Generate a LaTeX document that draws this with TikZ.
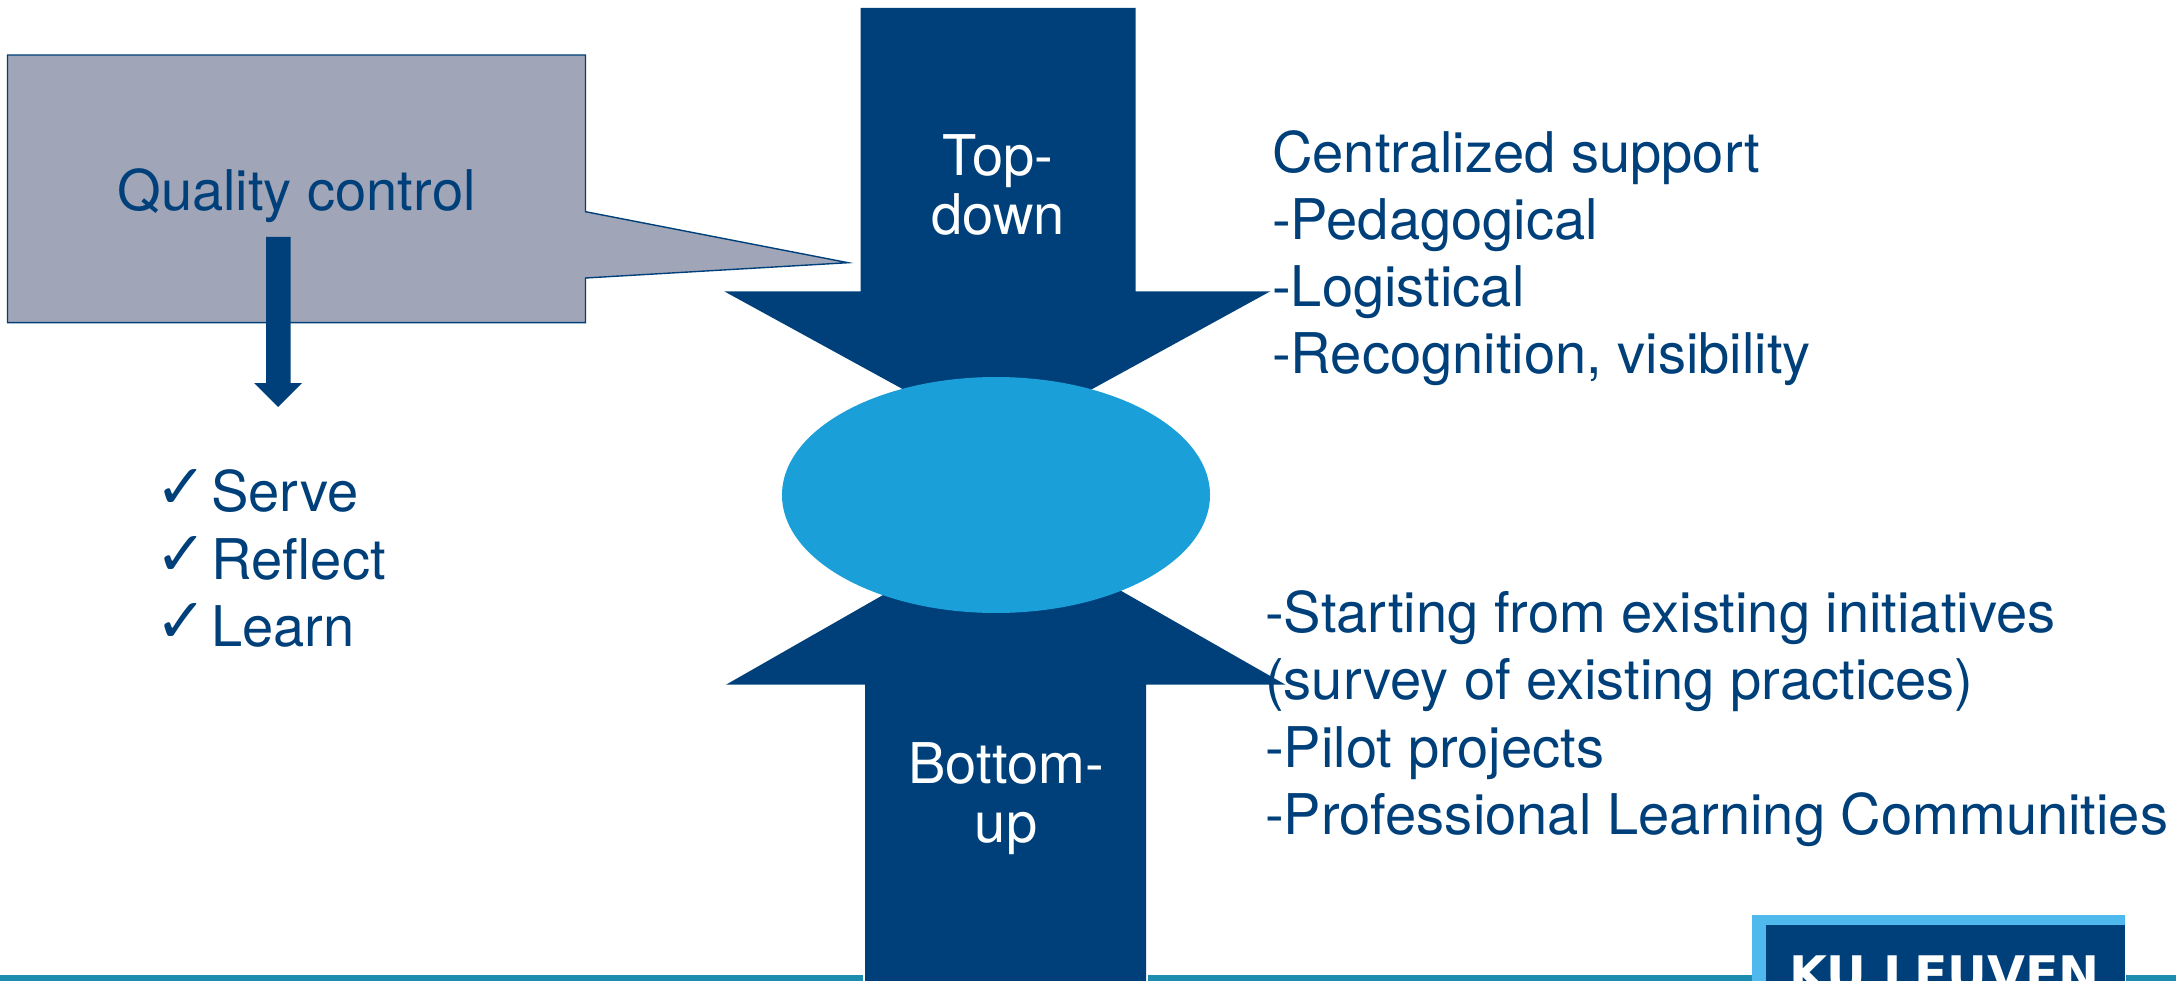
\documentclass[tikz,border=0pt]{standalone}
\usepackage{fontspec}
\setmainfont{TeX Gyre Heros}
\newfontfamily\checkfont{DejaVu Sans}
\newfontfamily\logofont{DejaVu Sans}
\definecolor{kunavy}{HTML}{00407A}
\definecolor{kugray}{HTML}{A0A5B8}
\definecolor{kusky}{HTML}{1A9FD9}
\definecolor{kulight}{HTML}{4FB9EE}
\definecolor{kuteal}{HTML}{1C8DB0}
\tikzset{
  bodytext/.style={text=kunavy,inner sep=0pt,align=left,font=\fontsize{56.1}{67.2}\selectfont},
  itemtext/.style={text=kunavy,inner sep=0pt,anchor=base west,font=\fontsize{56.1}{67}\selectfont},
  checkmark/.style={text=kunavy,inner sep=0pt,anchor=base west,font=\checkfont\fontsize{62}{62}\selectfont},
  arrowtext/.style={text=white,inner sep=0pt,align=center,font=\fontsize{56.1}{59}\selectfont},
  blockarrow/.style={fill=kunavy,draw=none},
  footbar/.style={fill=kuteal,draw=none}
}
\begin{document}
\begin{tikzpicture}[x=1pt,y=-1pt]
\useasboundingbox (0,0) rectangle (2176,981);
% footer bars
\fill[footbar] (0,975) rectangle (863,981);
\fill[footbar] (1148,975) rectangle (1752,981);
\fill[footbar] (2126,975) rectangle (2176,981);
% logo
\fill[kulight] (1752,915) rectangle (2125,981);
\fill[kunavy] (1765.5,925) rectangle (2125,981);
\begin{scope}
\clip (1765.5,925) rectangle (2125,981);
\node[text=white,inner sep=0pt,anchor=base,font=\logofont\bfseries\fontsize{49}{49}\selectfont] (logo) at (1944.5,991) {KU LEUVEN};
\end{scope}
% callout
\path[fill=kugray,draw=kunavy,line width=1.4pt,line join=miter]
  (7.5,55) -- (585.5,55) -- (585.5,211.7) -- (848,262.7) -- (585.5,278) -- (585.5,322.7) -- (7.5,322.7) -- cycle;
\node[text=kunavy,inner sep=0pt,anchor=base,font=\fontsize{56.1}{67}\selectfont] (quality) at (296.5,210.7) {Quality control};
% small arrow
\path[blockarrow] (266,237) -- (290.5,237) -- (290.5,383) -- (302,383) -- (278,407) -- (254,383) -- (266,383) -- cycle;
% top arrow
\path[blockarrow] (860.5,8) -- (1135.6,8) -- (1135.6,291.5) -- (1270,291.5) -- (997.5,441) -- (724.5,291.5) -- (860.5,291.5) -- cycle;
% bottom arrow
\path[blockarrow] (865,981) -- (1146,981) -- (1146,684.7) -- (1285.5,684.7) -- (1005.7,525) -- (726,684.7) -- (865,684.7) -- cycle;
% ellipse
\fill[kusky] (996,495) ellipse [x radius=214,y radius=118];
% labels on arrows
\node[arrowtext,anchor=base] (top) at (998,235) {Top-\\down};
\node[arrowtext,anchor=base] (bottom) at (1006,842) {Bottom-\\up};
% right texts
\node[bodytext,anchor=north west] (central) at (1272,130) {Centralized support\\-Pedagogical\\-Logistical\\-Recognition, visibility};
\node[bodytext,anchor=north west] (initiatives) at (1265,590.5) {-Starting from existing initiatives\\(survey of existing practices)\\-Pilot projects\\-Professional Learning Communities};
% checklist
\node[checkmark] (c1) at (155,508) {✓};
\node[checkmark] (c2) at (155,575) {✓};
\node[checkmark] (c3) at (155,642) {✓};
\node[itemtext] (serve) at (211,511.7) {Serve};
\node[itemtext] (reflect) at (211.5,579) {Reflect};
\node[itemtext] (learn) at (211,646) {Learn};
\end{tikzpicture}
\end{document}
